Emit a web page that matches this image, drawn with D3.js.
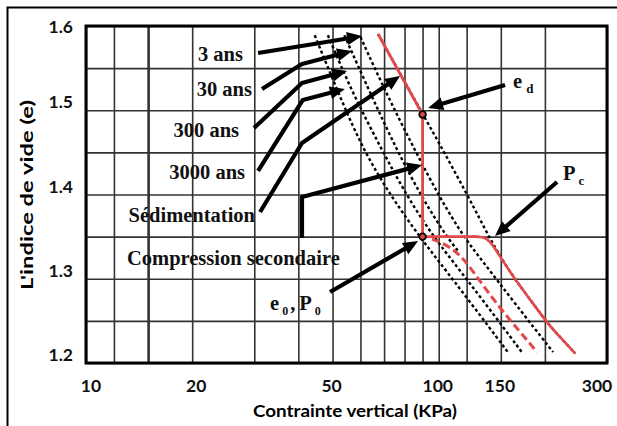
<!DOCTYPE html>
<html>
<head>
<meta charset="utf-8">
<script src="https://cdn.jsdelivr.net/npm/d3@7"></script>
<style>
  body { margin: 0; background: #fff; }
  svg { display: block; }
</style>
</head>
<body>
<svg id="chart" width="617" height="426"></svg>
<script>
// ---- Axes: grid and tick values (contrainte in kPa, log scale; indice de vide, linear) ----
const xGridValues = [10, 12, 15, 20, 30, 40, 50, 60, 70, 80, 90, 100, 120, 150, 200, 300];
const yGridValues = [1.2, 1.25, 1.3, 1.35, 1.4, 1.45, 1.5, 1.55, 1.6];
const xTickValues = [10, 20, 50, 100, 150, 300];
const yTickValues = [1.2, 1.3, 1.4, 1.5, 1.6];

// ---- Isochrones: [contrainte (kPa), indice de vide] ----
const line3000ans = [[44.5, 1.589], [52, 1.52], [61, 1.453], [74, 1.395], [89, 1.348], [99.5, 1.322], [124, 1.27], [157, 1.213]];
const line300ans  = [[48.5, 1.589], [57, 1.52], [69, 1.453], [82, 1.395], [97.5, 1.348], [109, 1.322], [136, 1.27], [172, 1.213]];
const line30ans   = [[54, 1.589], [64, 1.52], [76, 1.453], [90, 1.395], [106, 1.348], [114, 1.332]];
const line3ans    = [[60, 1.587], [71, 1.52], [85.5, 1.453], [101, 1.395], [118.5, 1.348], [132.5, 1.322], [165, 1.27], [211, 1.213]];
const sedimentationLine = [[67.3, 1.5905], [90.2, 1.495], [102.8, 1.453], [128.4, 1.378], [141.6, 1.3424],
                           [162.5, 1.302], [185, 1.271], [203, 1.2475], [225, 1.227], [243, 1.212]];

// ---- Chemin de chargement (rouge) ----
const loadingPath = [[67.3, 1.5905], [90, 1.495], [90, 1.35], [128, 1.35]];
const recompressionPath = [[125, 1.35], [133, 1.35], [139, 1.346], [146, 1.333], [162.5, 1.302],
                           [185, 1.271], [203, 1.2475], [225, 1.227], [243, 1.212]];
const reloadPath = [[95.7, 1.347], [101, 1.3435], [108, 1.337], [114, 1.329], [121, 1.317], [128.4, 1.302],
                    [149.2, 1.265], [170, 1.237], [190, 1.213]];
// e_d and (e0, P0)
const keyPoints = [[90, 1.495], [90, 1.35]];

const RED = "#e3484b";
const SERIF = "'Liberation Serif', 'Times New Roman', serif";
const SANS = "Lato, 'Open Sans', sans-serif";

const svg = d3.select("#chart");
const x = d3.scaleLog().domain([10, 300]).range([86, 607]);
const y = d3.scaleLinear().domain([1.2, 1.6]).range([363, 26]);
const plotH = y(1.2) - y(1.6);
const plotW = x(300) - x(10);

// outer frame (open on the right and bottom)
svg.append("path")
  .attr("d", "M7.5,426V7.5H617")
  .attr("fill", "none").attr("stroke", "#000").attr("stroke-width", 2);

// vertical grid
const gx = svg.append("g")
  .attr("transform", `translate(0,${y(1.2)})`)
  .call(d3.axisBottom(x).tickValues(xGridValues).tickSize(-plotH).tickFormat(""));
gx.select(".domain").remove();
gx.selectAll(".tick line")
  .attr("stroke", "#333")
  .attr("stroke-width", d => d === 15 ? 2.6 : 1.6);

// horizontal grid
const gy = svg.append("g")
  .attr("transform", `translate(${x(10)},0)`)
  .call(d3.axisLeft(y).tickValues(yGridValues).tickSize(-plotW).tickFormat(""));
gy.select(".domain").remove();
gy.selectAll(".tick line").attr("stroke", "#333").attr("stroke-width", 1.6);

// plot border
svg.append("rect")
  .attr("x", x(10)).attr("y", y(1.6))
  .attr("width", plotW).attr("height", plotH)
  .attr("fill", "none").attr("stroke", "#000").attr("stroke-width", 3);

// tick labels
const xShift = d => d === 10 ? 5 : d === 20 ? 4 : d === 300 ? -10 : -1;
svg.append("g").selectAll("text").data(xTickValues).join("text")
  .attr("x", d => x(d) + xShift(d))
  .attr("y", 392)
  .attr("text-anchor", "middle")
  .attr("font-family", SANS).attr("font-weight", 700).attr("font-size", 17.5)
  .attr("fill", "#111")
  .text(d => d);

svg.append("g").selectAll("text").data(yTickValues).join("text")
  .attr("x", 73)
  .attr("y", d => y(d) + (d === 1.6 ? 7 : -2))
  .attr("text-anchor", "end")
  .attr("font-family", SANS).attr("font-weight", 700).attr("font-size", 17.5)
  .attr("fill", "#111")
  .text(d => d.toFixed(1));

// axis titles
svg.append("text")
  .attr("x", 355).attr("y", 417)
  .attr("text-anchor", "middle")
  .attr("font-family", SANS).attr("font-weight", 700).attr("font-size", 17.5)
  .attr("textLength", 204).attr("lengthAdjust", "spacingAndGlyphs")
  .text("Contrainte vertical (KPa)");

svg.append("text")
  .attr("transform", "translate(33,195) rotate(-90)")
  .attr("text-anchor", "middle")
  .attr("font-family", SANS).attr("font-weight", 700).attr("font-size", 17.5)
  .attr("textLength", 190).attr("lengthAdjust", "spacingAndGlyphs")
  .text("L'indice de vide (e)");

// curves
const curve = d3.line().x(d => x(d[0])).y(d => y(d[1])).curve(d3.curveBasis);
const poly = d3.line().x(d => x(d[0])).y(d => y(d[1]));

const dotted = [line3000ans, line300ans, line30ans, line3ans, sedimentationLine];
svg.append("g").selectAll("path").data(dotted).join("path")
  .attr("d", curve)
  .attr("fill", "none").attr("stroke", "#000")
  .attr("stroke-width", 2.4).attr("stroke-dasharray", "3,2.6");

svg.append("path").attr("d", curve(reloadPath))
  .attr("fill", "none").attr("stroke", RED)
  .attr("stroke-width", 3).attr("stroke-dasharray", "8,4");

svg.append("path").attr("d", poly(loadingPath))
  .attr("fill", "none").attr("stroke", RED)
  .attr("stroke-width", 2.8).attr("stroke-linejoin", "round");
svg.append("path").attr("d", curve(recompressionPath))
  .attr("fill", "none").attr("stroke", RED)
  .attr("stroke-width", 2.6).attr("stroke-linecap", "round");

svg.append("g").selectAll("circle").data(keyPoints).join("circle")
  .attr("cx", d => x(d[0])).attr("cy", d => y(d[1])).attr("r", 3.3)
  .attr("fill", RED).attr("stroke", "#000").attr("stroke-width", 1.8);

// annotation arrows, given in data coordinates
const arrows = [
  [[30.75, 1.568], [46.1, 1.5798], [60.6, 1.5881]],
  [[31.55, 1.5252], [40.96, 1.5549], [56.8, 1.5703]],
  [[29.95, 1.4789], [40.96, 1.5323], [54.95, 1.5466]],
  [[30.75, 1.4279], [41.2, 1.5122], [54.2, 1.5252]],
  [[31.15, 1.3792], [40.96, 1.4611], [77.7, 1.5407]],
  [[40.96, 1.3484], [40.96, 1.397], [89.7, 1.435]],
  [[154.2, 1.53], [93.3, 1.5027]],
  [[216.5, 1.4148], [144.4, 1.3507]],
  [[49.2, 1.2843], [87.4, 1.3448]]
];
const ga = svg.append("g");
arrows.forEach(a => {
  const p = a.map(d => [x(d[0]), y(d[1])]);
  const tip = p[p.length - 1], prev = p[p.length - 2];
  const dx = tip[0] - prev[0], dy = tip[1] - prev[1];
  const L = Math.hypot(dx, dy), ux = dx / L, uy = dy / L;
  const headLen = 15, halfW = 6.5;
  const shaft = p.slice(0, -1).concat([[tip[0] - ux * (headLen - 3), tip[1] - uy * (headLen - 3)]]);
  ga.append("path").attr("d", d3.line()(shaft))
    .attr("fill", "none").attr("stroke", "#000")
    .attr("stroke-width", 4.2).attr("stroke-linejoin", "round");
  const bx = tip[0] - ux * headLen, by = tip[1] - uy * headLen;
  ga.append("path")
    .attr("d", `M${tip[0]},${tip[1]}L${bx - uy * halfW},${by + ux * halfW}L${bx + uy * halfW},${by - ux * halfW}Z`)
    .attr("fill", "#000");
});

// annotation labels (data coordinates)
const label = (sx, ey, anchor) => svg.append("text")
  .attr("x", x(sx)).attr("y", y(ey))
  .attr("text-anchor", anchor)
  .attr("font-family", SERIF).attr("font-weight", 700).attr("font-size", 20.5)
  .attr("fill", "#111");

label(27.87, 1.5585, "end").text("3 ans");
label(29.55, 1.5169, "end").text("30 ans");
label(27.16, 1.4683, "end").text("300 ans");
label(28.24, 1.4184, "end").text("3000 ans");
label(30.14, 1.3674, "end").text("Sédimentation");
label(13.07, 1.3163, "start").text("Compression secondaire");

const ed = label(162.5, 1.5264, "start");
ed.append("tspan").text("e");
ed.append("tspan").attr("dx", 4).attr("dy", 5).attr("font-size", 13).text("d");

const pc = label(225.1, 1.4172, "start");
pc.append("tspan").text("P");
pc.append("tspan").attr("dx", 3).attr("dy", 5).attr("font-size", 13).text("c");

const e0 = label(33.25, 1.2629, "start");
e0.append("tspan").text("e");
e0.append("tspan").attr("dx", 3).attr("dy", 5).attr("font-size", 12).text("0");
e0.append("tspan").attr("dx", 2).attr("dy", -5).text(",");
e0.append("tspan").attr("dx", 4).text("P");
e0.append("tspan").attr("dx", 3).attr("dy", 5).attr("font-size", 12).text("0");
</script>
</body>
</html>
